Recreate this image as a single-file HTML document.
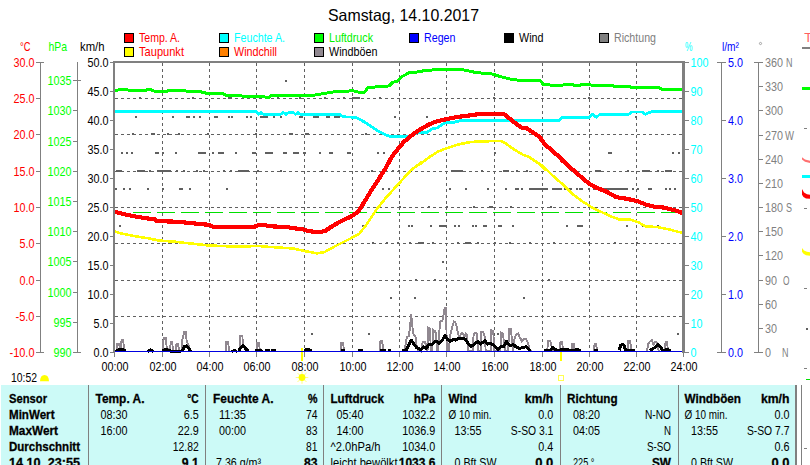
<!DOCTYPE html>
<html><head><meta charset="utf-8"><title>Wetter</title>
<style>html,body{margin:0;padding:0;background:#fff;overflow:hidden}svg{display:block}text{white-space:pre}</style></head>
<body>
<svg width="810" height="465" viewBox="0 0 810 465" font-family="Liberation Sans, sans-serif">
<rect x="0" y="0" width="810" height="465" fill="#fff"/>
<text x="328" y="21" font-size="16.5" fill="#000" text-anchor="start" textLength="151" lengthAdjust="spacingAndGlyphs" >Samstag, 14.10.2017</text>
<rect x="124.5" y="33.5" width="9" height="9" fill="#ff0000" stroke="#000" stroke-width="1" shape-rendering="crispEdges"/>
<text x="139" y="42" font-size="13" fill="#ff0000" text-anchor="start" textLength="41" lengthAdjust="spacingAndGlyphs" >Temp. A.</text>
<rect x="124.5" y="47.5" width="9" height="9" fill="#ffff00" stroke="#000" stroke-width="1" shape-rendering="crispEdges"/>
<text x="139" y="56" font-size="13" fill="#ff0000" text-anchor="start" textLength="45" lengthAdjust="spacingAndGlyphs" >Taupunkt</text>
<rect x="219.5" y="33.5" width="9" height="9" fill="#00ffff" stroke="#000" stroke-width="1" shape-rendering="crispEdges"/>
<text x="234" y="42" font-size="13" fill="#00ffff" text-anchor="start" textLength="51" lengthAdjust="spacingAndGlyphs" >Feuchte A.</text>
<rect x="219.5" y="47.5" width="9" height="9" fill="#ff8000" stroke="#000" stroke-width="1" shape-rendering="crispEdges"/>
<text x="234" y="56" font-size="13" fill="#ff0000" text-anchor="start" textLength="43" lengthAdjust="spacingAndGlyphs" >Windchill</text>
<rect x="314.5" y="33.5" width="9" height="9" fill="#00ff00" stroke="#000" stroke-width="1" shape-rendering="crispEdges"/>
<text x="329" y="42" font-size="13" fill="#00f000" text-anchor="start" textLength="44" lengthAdjust="spacingAndGlyphs" >Luftdruck</text>
<rect x="314.5" y="47.5" width="9" height="9" fill="#908890" stroke="#000" stroke-width="1" shape-rendering="crispEdges"/>
<text x="329" y="56" font-size="13" fill="#000000" text-anchor="start" textLength="48.5" lengthAdjust="spacingAndGlyphs" >Windböen</text>
<rect x="409.5" y="33.5" width="9" height="9" fill="#0000ff" stroke="#000" stroke-width="1" shape-rendering="crispEdges"/>
<text x="424" y="42" font-size="13" fill="#0000ff" text-anchor="start" textLength="31.5" lengthAdjust="spacingAndGlyphs" >Regen</text>
<rect x="504.5" y="33.5" width="9" height="9" fill="#000000" stroke="#000" stroke-width="1" shape-rendering="crispEdges"/>
<text x="519" y="42" font-size="13" fill="#000000" text-anchor="start" textLength="24.5" lengthAdjust="spacingAndGlyphs" >Wind</text>
<rect x="599.5" y="33.5" width="9" height="9" fill="#808080" stroke="#000" stroke-width="1" shape-rendering="crispEdges"/>
<text x="614" y="42" font-size="13" fill="#808080" text-anchor="start" textLength="42" lengthAdjust="spacingAndGlyphs" >Richtung</text>
<g stroke="#606060" stroke-width="1" stroke-dasharray="3,3" shape-rendering="crispEdges">
<line x1="162.5" y1="63" x2="162.5" y2="352"/>
<line x1="209.5" y1="63" x2="209.5" y2="352"/>
<line x1="256.5" y1="63" x2="256.5" y2="352"/>
<line x1="304.5" y1="63" x2="304.5" y2="352"/>
<line x1="352.5" y1="63" x2="352.5" y2="352"/>
<line x1="399.5" y1="63" x2="399.5" y2="352"/>
<line x1="446.5" y1="63" x2="446.5" y2="352"/>
<line x1="494.5" y1="63" x2="494.5" y2="352"/>
<line x1="542.5" y1="63" x2="542.5" y2="352"/>
<line x1="589.5" y1="63" x2="589.5" y2="352"/>
<line x1="636.5" y1="63" x2="636.5" y2="352"/>
<line x1="115" y1="98.5" x2="682" y2="98.5"/>
<line x1="115" y1="134.5" x2="682" y2="134.5"/>
<line x1="115" y1="171.5" x2="682" y2="171.5"/>
<line x1="115" y1="207.5" x2="682" y2="207.5"/>
<line x1="115" y1="243.5" x2="682" y2="243.5"/>
<line x1="115" y1="280.5" x2="682" y2="280.5"/>
<line x1="115" y1="316.5" x2="682" y2="316.5"/>
</g>
<g fill="#606060" shape-rendering="crispEdges">
<rect x="285" y="80" width="2" height="2"/>
<rect x="139" y="97" width="2" height="2"/>
<rect x="192" y="97" width="2" height="2"/>
<rect x="228" y="97" width="2" height="2"/>
<rect x="230" y="97" width="2" height="2"/>
<rect x="247" y="97" width="2" height="2"/>
<rect x="277" y="97" width="2" height="2"/>
<rect x="299" y="97" width="2" height="2"/>
<rect x="135" y="116" width="2" height="2"/>
<rect x="172" y="116" width="2" height="2"/>
<rect x="186" y="116" width="2" height="2"/>
<rect x="188" y="116" width="2" height="2"/>
<rect x="193" y="116" width="2" height="2"/>
<rect x="199" y="116" width="2" height="2"/>
<rect x="214" y="116" width="2" height="2"/>
<rect x="216" y="116" width="2" height="2"/>
<rect x="228" y="116" width="2" height="2"/>
<rect x="231" y="116" width="2" height="2"/>
<rect x="246" y="116" width="2" height="2"/>
<rect x="250" y="116" width="2" height="2"/>
<rect x="260" y="116" width="2" height="2"/>
<rect x="262" y="116" width="2" height="2"/>
<rect x="264" y="116" width="2" height="2"/>
<rect x="266" y="116" width="2" height="2"/>
<rect x="273" y="116" width="2" height="2"/>
<rect x="280" y="116" width="2" height="2"/>
<rect x="299" y="116" width="2" height="2"/>
<rect x="301" y="116" width="2" height="2"/>
<rect x="132" y="133" width="2" height="2"/>
<rect x="151" y="133" width="2" height="2"/>
<rect x="153" y="133" width="2" height="2"/>
<rect x="167" y="133" width="2" height="2"/>
<rect x="178" y="133" width="2" height="2"/>
<rect x="207" y="133" width="2" height="2"/>
<rect x="255" y="133" width="2" height="2"/>
<rect x="289" y="133" width="2" height="2"/>
<rect x="291" y="133" width="2" height="2"/>
<rect x="307" y="133" width="2" height="2"/>
<rect x="121" y="152" width="2" height="2"/>
<rect x="126" y="152" width="2" height="2"/>
<rect x="131" y="152" width="2" height="2"/>
<rect x="155" y="152" width="2" height="2"/>
<rect x="157" y="152" width="2" height="2"/>
<rect x="162" y="152" width="2" height="2"/>
<rect x="175" y="152" width="2" height="2"/>
<rect x="198" y="152" width="2" height="2"/>
<rect x="200" y="152" width="2" height="2"/>
<rect x="202" y="152" width="2" height="2"/>
<rect x="204" y="152" width="2" height="2"/>
<rect x="212" y="152" width="2" height="2"/>
<rect x="218" y="152" width="2" height="2"/>
<rect x="220" y="152" width="2" height="2"/>
<rect x="222" y="152" width="2" height="2"/>
<rect x="235" y="152" width="2" height="2"/>
<rect x="252" y="152" width="2" height="2"/>
<rect x="254" y="152" width="2" height="2"/>
<rect x="265" y="152" width="2" height="2"/>
<rect x="267" y="152" width="2" height="2"/>
<rect x="269" y="152" width="2" height="2"/>
<rect x="271" y="152" width="2" height="2"/>
<rect x="283" y="152" width="2" height="2"/>
<rect x="285" y="152" width="2" height="2"/>
<rect x="293" y="152" width="2" height="2"/>
<rect x="295" y="152" width="2" height="2"/>
<rect x="297" y="152" width="2" height="2"/>
<rect x="304" y="152" width="2" height="2"/>
<rect x="324" y="97" width="2" height="2"/>
<rect x="343" y="97" width="2" height="2"/>
<rect x="352" y="97" width="2" height="2"/>
<rect x="354" y="97" width="2" height="2"/>
<rect x="356" y="97" width="2" height="2"/>
<rect x="358" y="97" width="2" height="2"/>
<rect x="379" y="97" width="2" height="2"/>
<rect x="301" y="116" width="2" height="2"/>
<rect x="313" y="116" width="2" height="2"/>
<rect x="315" y="116" width="2" height="2"/>
<rect x="317" y="116" width="2" height="2"/>
<rect x="326" y="116" width="2" height="2"/>
<rect x="328" y="116" width="2" height="2"/>
<rect x="334" y="116" width="2" height="2"/>
<rect x="336" y="116" width="2" height="2"/>
<rect x="338" y="116" width="2" height="2"/>
<rect x="394" y="116" width="2" height="2"/>
<rect x="426" y="116" width="2" height="2"/>
<rect x="305" y="133" width="2" height="2"/>
<rect x="307" y="133" width="2" height="2"/>
<rect x="365" y="133" width="2" height="2"/>
<rect x="303" y="152" width="2" height="2"/>
<rect x="319" y="152" width="2" height="2"/>
<rect x="329" y="152" width="2" height="2"/>
<rect x="331" y="152" width="2" height="2"/>
<rect x="347" y="152" width="2" height="2"/>
<rect x="349" y="152" width="2" height="2"/>
<rect x="377" y="152" width="2" height="2"/>
<rect x="383" y="152" width="2" height="2"/>
<rect x="494" y="152" width="2" height="2"/>
<rect x="493" y="97" width="2" height="2"/>
<rect x="588" y="97" width="2" height="2"/>
<rect x="635" y="116" width="2" height="2"/>
<rect x="494" y="152" width="2" height="2"/>
<rect x="608" y="152" width="2" height="2"/>
<rect x="610" y="152" width="2" height="2"/>
<rect x="672" y="152" width="2" height="2"/>
<rect x="678" y="152" width="2" height="2"/>
<rect x="116" y="170" width="2" height="2"/>
<rect x="118" y="170" width="2" height="2"/>
<rect x="120" y="170" width="2" height="2"/>
<rect x="137" y="170" width="2" height="2"/>
<rect x="139" y="170" width="2" height="2"/>
<rect x="141" y="170" width="2" height="2"/>
<rect x="143" y="170" width="2" height="2"/>
<rect x="149" y="170" width="2" height="2"/>
<rect x="157" y="170" width="2" height="2"/>
<rect x="159" y="170" width="2" height="2"/>
<rect x="161" y="170" width="2" height="2"/>
<rect x="163" y="170" width="2" height="2"/>
<rect x="165" y="170" width="2" height="2"/>
<rect x="167" y="170" width="2" height="2"/>
<rect x="169" y="170" width="2" height="2"/>
<rect x="176" y="170" width="2" height="2"/>
<rect x="183" y="170" width="2" height="2"/>
<rect x="196" y="170" width="2" height="2"/>
<rect x="203" y="170" width="2" height="2"/>
<rect x="223" y="170" width="2" height="2"/>
<rect x="230" y="170" width="2" height="2"/>
<rect x="238" y="170" width="2" height="2"/>
<rect x="240" y="170" width="2" height="2"/>
<rect x="242" y="170" width="2" height="2"/>
<rect x="243" y="170" width="2" height="2"/>
<rect x="245" y="170" width="2" height="2"/>
<rect x="247" y="170" width="2" height="2"/>
<rect x="257" y="170" width="2" height="2"/>
<rect x="280" y="170" width="2" height="2"/>
<rect x="115" y="188" width="2" height="2"/>
<rect x="123" y="188" width="2" height="2"/>
<rect x="129" y="188" width="2" height="2"/>
<rect x="147" y="188" width="2" height="2"/>
<rect x="162" y="188" width="2" height="2"/>
<rect x="179" y="188" width="2" height="2"/>
<rect x="181" y="188" width="2" height="2"/>
<rect x="189" y="188" width="2" height="2"/>
<rect x="226" y="188" width="2" height="2"/>
<rect x="119" y="225" width="2" height="2"/>
<rect x="168" y="242" width="2" height="2"/>
<rect x="255" y="242" width="2" height="2"/>
<rect x="321" y="170" width="2" height="2"/>
<rect x="371" y="170" width="2" height="2"/>
<rect x="392" y="170" width="2" height="2"/>
<rect x="398" y="170" width="2" height="2"/>
<rect x="451" y="170" width="2" height="2"/>
<rect x="453" y="170" width="2" height="2"/>
<rect x="455" y="170" width="2" height="2"/>
<rect x="457" y="170" width="2" height="2"/>
<rect x="459" y="170" width="2" height="2"/>
<rect x="461" y="170" width="2" height="2"/>
<rect x="481" y="170" width="2" height="2"/>
<rect x="382" y="188" width="2" height="2"/>
<rect x="388" y="188" width="2" height="2"/>
<rect x="449" y="188" width="2" height="2"/>
<rect x="465" y="188" width="2" height="2"/>
<rect x="487" y="188" width="2" height="2"/>
<rect x="399" y="206" width="2" height="2"/>
<rect x="428" y="206" width="2" height="2"/>
<rect x="446" y="206" width="2" height="2"/>
<rect x="473" y="206" width="2" height="2"/>
<rect x="489" y="206" width="2" height="2"/>
<rect x="491" y="206" width="2" height="2"/>
<rect x="362" y="225" width="2" height="2"/>
<rect x="408" y="225" width="2" height="2"/>
<rect x="411" y="225" width="2" height="2"/>
<rect x="430" y="225" width="2" height="2"/>
<rect x="439" y="225" width="2" height="2"/>
<rect x="441" y="225" width="2" height="2"/>
<rect x="443" y="225" width="2" height="2"/>
<rect x="445" y="225" width="2" height="2"/>
<rect x="454" y="225" width="2" height="2"/>
<rect x="458" y="225" width="2" height="2"/>
<rect x="472" y="225" width="2" height="2"/>
<rect x="475" y="225" width="2" height="2"/>
<rect x="483" y="225" width="2" height="2"/>
<rect x="485" y="225" width="2" height="2"/>
<rect x="341" y="242" width="2" height="2"/>
<rect x="372" y="242" width="2" height="2"/>
<rect x="386" y="242" width="2" height="2"/>
<rect x="397" y="242" width="2" height="2"/>
<rect x="409" y="242" width="2" height="2"/>
<rect x="418" y="242" width="2" height="2"/>
<rect x="420" y="242" width="2" height="2"/>
<rect x="422" y="242" width="2" height="2"/>
<rect x="432" y="242" width="2" height="2"/>
<rect x="457" y="242" width="2" height="2"/>
<rect x="465" y="242" width="2" height="2"/>
<rect x="467" y="242" width="2" height="2"/>
<rect x="469" y="242" width="2" height="2"/>
<rect x="477" y="242" width="2" height="2"/>
<rect x="494" y="242" width="2" height="2"/>
<rect x="442" y="261" width="2" height="2"/>
<rect x="503" y="170" width="2" height="2"/>
<rect x="505" y="170" width="2" height="2"/>
<rect x="507" y="170" width="2" height="2"/>
<rect x="516" y="170" width="2" height="2"/>
<rect x="526" y="170" width="2" height="2"/>
<rect x="595" y="170" width="2" height="2"/>
<rect x="597" y="170" width="2" height="2"/>
<rect x="599" y="170" width="2" height="2"/>
<rect x="627" y="170" width="2" height="2"/>
<rect x="642" y="170" width="2" height="2"/>
<rect x="644" y="170" width="2" height="2"/>
<rect x="646" y="170" width="2" height="2"/>
<rect x="648" y="170" width="2" height="2"/>
<rect x="657" y="170" width="2" height="2"/>
<rect x="665" y="170" width="2" height="2"/>
<rect x="667" y="170" width="2" height="2"/>
<rect x="668" y="170" width="2" height="2"/>
<rect x="670" y="170" width="2" height="2"/>
<rect x="505" y="188" width="2" height="2"/>
<rect x="515" y="188" width="2" height="2"/>
<rect x="517" y="188" width="2" height="2"/>
<rect x="521" y="188" width="2" height="2"/>
<rect x="529" y="188" width="2" height="2"/>
<rect x="531" y="188" width="2" height="2"/>
<rect x="533" y="188" width="2" height="2"/>
<rect x="534" y="188" width="2" height="2"/>
<rect x="536" y="188" width="2" height="2"/>
<rect x="538" y="188" width="2" height="2"/>
<rect x="540" y="188" width="2" height="2"/>
<rect x="542" y="188" width="2" height="2"/>
<rect x="544" y="188" width="2" height="2"/>
<rect x="546" y="188" width="2" height="2"/>
<rect x="552" y="188" width="2" height="2"/>
<rect x="554" y="188" width="2" height="2"/>
<rect x="556" y="188" width="2" height="2"/>
<rect x="558" y="188" width="2" height="2"/>
<rect x="560" y="188" width="2" height="2"/>
<rect x="564" y="188" width="2" height="2"/>
<rect x="568" y="188" width="2" height="2"/>
<rect x="570" y="188" width="2" height="2"/>
<rect x="576" y="188" width="2" height="2"/>
<rect x="579" y="188" width="2" height="2"/>
<rect x="581" y="188" width="2" height="2"/>
<rect x="588" y="188" width="2" height="2"/>
<rect x="593" y="188" width="2" height="2"/>
<rect x="595" y="188" width="2" height="2"/>
<rect x="597" y="188" width="2" height="2"/>
<rect x="599" y="188" width="2" height="2"/>
<rect x="601" y="188" width="2" height="2"/>
<rect x="603" y="188" width="2" height="2"/>
<rect x="605" y="188" width="2" height="2"/>
<rect x="607" y="188" width="2" height="2"/>
<rect x="609" y="188" width="2" height="2"/>
<rect x="611" y="188" width="2" height="2"/>
<rect x="613" y="188" width="2" height="2"/>
<rect x="615" y="188" width="2" height="2"/>
<rect x="617" y="188" width="2" height="2"/>
<rect x="619" y="188" width="2" height="2"/>
<rect x="621" y="188" width="2" height="2"/>
<rect x="622" y="188" width="2" height="2"/>
<rect x="624" y="188" width="2" height="2"/>
<rect x="626" y="188" width="2" height="2"/>
<rect x="632" y="188" width="2" height="2"/>
<rect x="637" y="188" width="2" height="2"/>
<rect x="648" y="188" width="2" height="2"/>
<rect x="650" y="188" width="2" height="2"/>
<rect x="665" y="188" width="2" height="2"/>
<rect x="669" y="188" width="2" height="2"/>
<rect x="674" y="188" width="2" height="2"/>
<rect x="491" y="206" width="2" height="2"/>
<rect x="510" y="206" width="2" height="2"/>
<rect x="550" y="206" width="2" height="2"/>
<rect x="588" y="206" width="2" height="2"/>
<rect x="498" y="225" width="2" height="2"/>
<rect x="500" y="225" width="2" height="2"/>
<rect x="512" y="225" width="2" height="2"/>
<rect x="566" y="225" width="2" height="2"/>
<rect x="577" y="225" width="2" height="2"/>
<rect x="579" y="225" width="2" height="2"/>
<rect x="581" y="225" width="2" height="2"/>
<rect x="626" y="225" width="2" height="2"/>
<rect x="642" y="225" width="2" height="2"/>
<rect x="657" y="225" width="2" height="2"/>
<rect x="509" y="242" width="2" height="2"/>
<rect x="529" y="242" width="2" height="2"/>
<rect x="553" y="242" width="2" height="2"/>
<rect x="588" y="242" width="2" height="2"/>
<rect x="614" y="242" width="2" height="2"/>
<rect x="636" y="242" width="2" height="2"/>
<rect x="415" y="279" width="2" height="2"/>
<rect x="434" y="279" width="2" height="2"/>
<rect x="390" y="297" width="2" height="2"/>
<rect x="414" y="297" width="2" height="2"/>
<rect x="311" y="333" width="2" height="2"/>
<rect x="368" y="333" width="2" height="2"/>
<rect x="548" y="279" width="2" height="2"/>
<rect x="523" y="297" width="2" height="2"/>
<rect x="497" y="333" width="2" height="2"/>
<rect x="677" y="333" width="2" height="2"/>
</g>
<line x1="133" y1="212.5" x2="682" y2="212.5" stroke="#00e000" stroke-width="1" stroke-dasharray="18,6" shape-rendering="crispEdges"/>
<rect x="301" y="348" width="2" height="13" fill="#ffff00" shape-rendering="crispEdges"/>
<rect x="560" y="348" width="2" height="13" fill="#ffff00" shape-rendering="crispEdges"/>
<path d="M116.7,351.3 L117.4,343.6 L118.8,343.6 L119.8,347.5 L121.0,347.5 L121.6,339.8 L123.0,339.8 L124.0,346.7 L124.5,351.3 M162.5,351.3 L163.0,341.5 L164.1,337.7 L165.6,337.7 L166.5,345.8 L167.7,348.4 L168.9,351.3 L170.0,351.3 L170.7,341.5 L172.0,341.5 L172.9,348.4 L173.8,351.3 L175.8,351.3 L176.5,344.1 L177.9,344.1 L179.0,349.3 L179.8,351.3 L181.5,351.3 L182.4,339.8 L184.1,332.0 L185.9,332.0 L186.7,341.5 L188.5,344.9 L189.3,351.3 M225.6,351.3 L226.3,342.3 L228.2,342.3 L229.1,351.3 M239.4,351.3 L240.3,335.8 L242.4,335.8 L242.9,344.1 L244.6,346.7 L247.2,351.3 M256.4,351.3 L257.1,342.9 L258.8,342.9 L259.8,349.3 L260.5,351.3 M340.6,351.3 L341.4,342.9 L343.1,342.9 L344.0,351.3 M379.4,351.3 L380.5,340.6 L382.2,340.6 L383.2,351.3 M404.5,351.3 L406.8,337.2 L408.8,336.3 L410.2,325.9 L411.1,313.8 L412.3,325.9 L413.7,335.4 L415.4,336.3 L416.6,344.9 L418.3,350.1 L420.9,351.3 L422.7,342.3 L424.7,341.5 L426.1,344.9 L427.5,351.3 L428.4,327.7 L430.1,328.5 L430.8,351.3 L432.2,351.3 L433.0,329.4 L434.8,331.1 L436.1,333.7 L437.0,351.3 L438.2,351.3 L439.1,332.8 L440.5,320.7 L442.5,320.7 L443.4,315.6 L444.6,307.8 L446.0,307.8 L446.9,351.3 L448.6,351.3 L450.3,334.6 L452.0,327.7 L453.8,321.6 L455.5,322.5 L456.9,327.7 L458.1,334.6 L459.8,337.2 L461.5,332.8 L463.3,333.7 L464.1,337.2 L465.9,333.7 L467.2,334.6 L467.9,351.3 L472.8,351.3 L473.6,334.6 L474.9,332.8 L477.1,333.7 L478.0,351.3 L480.6,351.3 L481.4,332.0 L483.1,332.0 L484.9,337.2 L485.7,351.3 L490.9,351.3 L491.4,330.2 L493.2,331.1 L494.4,351.3 L500.4,351.3 L501.3,332.8 L503.0,333.7 L504.2,344.9 L505.6,351.3 L508.2,351.3 L509.1,328.5 L510.8,328.5 L512.2,342.3 L513.0,351.3 L514.3,339.8 L516.0,334.6 L518.1,333.7 L519.8,337.2 L522.0,341.5 L523.8,338.9 L526.0,338.9 L528.1,343.2 L529.8,350.1 L531.5,351.3 M547.0,351.3 L548.3,341.1 L550.2,341.1 L551.7,346.3 L553.1,351.3 M559.4,351.3 L560.4,342.2 L562.2,342.2 L563.1,351.3 M571.7,351.3 L572.4,344.1 L573.9,344.1 L574.8,351.3 M593.9,351.3 L594.6,344.1 L596.1,344.1 L597.2,351.3 M627.6,351.3 L628.3,341.1 L630.2,341.1 L631.3,351.3 M647.0,351.3 L648.3,343.5 L651.7,339.8 L653.5,344.4 L655.4,341.7 L657.2,343.0 L658.7,351.3 M664.6,351.3 L665.6,342.2 L667.0,342.2 L668.0,351.3" fill="none" stroke="#908890" stroke-width="1.9" stroke-linejoin="miter" shape-rendering="crispEdges"/>
<polyline points="115.9,351.3 118.5,349.8 121.9,349.3 125.4,351.0" fill="none" stroke="#000" stroke-width="3.0" stroke-linejoin="round" stroke-linecap="butt" shape-rendering="crispEdges"/>
<polyline points="147.8,351.3 150.4,349.8 153.4,351.3" fill="none" stroke="#000" stroke-width="3.0" stroke-linejoin="round" stroke-linecap="butt" shape-rendering="crispEdges"/>
<polyline points="162.5,351.3 165.1,349.3 167.7,349.8 170.3,351.0 180.7,351.0" fill="none" stroke="#000" stroke-width="3.0" stroke-linejoin="round" stroke-linecap="butt" shape-rendering="crispEdges"/>
<polyline points="182.4,351.0 184.1,346.7 186.7,345.8 189.3,349.3 190.7,351.3" fill="none" stroke="#000" stroke-width="3.0" stroke-linejoin="round" stroke-linecap="butt" shape-rendering="crispEdges"/>
<polyline points="231.7,351.3 234.3,350.6 236.9,351.3" fill="none" stroke="#000" stroke-width="3.0" stroke-linejoin="round" stroke-linecap="butt" shape-rendering="crispEdges"/>
<polyline points="238.6,351.0 240.3,348.4 242.9,345.3 245.5,348.4 248.1,351.0" fill="none" stroke="#000" stroke-width="3.0" stroke-linejoin="round" stroke-linecap="butt" shape-rendering="crispEdges"/>
<polyline points="255.0,351.0 257.6,350.1 261.0,350.3 261.9,351.3" fill="none" stroke="#000" stroke-width="3.0" stroke-linejoin="round" stroke-linecap="butt" shape-rendering="crispEdges"/>
<polyline points="265.0,350.8 269.7,350.8" fill="none" stroke="#000" stroke-width="3.0" stroke-linejoin="round" stroke-linecap="butt" shape-rendering="crispEdges"/>
<polyline points="271.4,350.8 275.7,350.8" fill="none" stroke="#000" stroke-width="3.0" stroke-linejoin="round" stroke-linecap="butt" shape-rendering="crispEdges"/>
<polyline points="304.3,350.8 306.0,349.8 309.4,349.8 311.7,351.0" fill="none" stroke="#000" stroke-width="3.0" stroke-linejoin="round" stroke-linecap="butt" shape-rendering="crispEdges"/>
<polyline points="341.1,350.8 345.2,350.8" fill="none" stroke="#000" stroke-width="3.0" stroke-linejoin="round" stroke-linecap="butt" shape-rendering="crispEdges"/>
<polyline points="358.4,350.8 363.0,350.8" fill="none" stroke="#000" stroke-width="3.0" stroke-linejoin="round" stroke-linecap="butt" shape-rendering="crispEdges"/>
<polyline points="379.8,350.8 386.4,350.8" fill="none" stroke="#000" stroke-width="3.0" stroke-linejoin="round" stroke-linecap="butt" shape-rendering="crispEdges"/>
<polyline points="388.1,350.8 390.7,350.8" fill="none" stroke="#000" stroke-width="3.0" stroke-linejoin="round" stroke-linecap="butt" shape-rendering="crispEdges"/>
<polyline points="401.9,351.0 406.2,350.1 408.8,344.9 411.4,340.1 414.0,344.1 416.6,347.5 420.9,350.1 423.5,346.7 426.1,348.4 428.7,344.9 432.2,344.1 435.6,341.1 439.1,343.2 442.5,339.8 445.1,335.4 447.7,339.8 450.3,341.5 452.9,339.4 455.5,340.1 459.0,338.4 463.3,338.4 465.9,339.8 468.5,344.1 471.0,346.7 474.5,344.1 478.0,341.5 480.6,344.1 484.9,340.6 487.5,344.1 490.9,343.2 494.4,345.8 497.8,349.3 501.3,346.7 503.9,346.3 506.5,341.5 509.9,345.8 513.4,344.6 516.0,347.0 519.4,348.4 522.9,347.5 526.4,346.7 529.0,349.3 530.7,351.0" fill="none" stroke="#000" stroke-width="3.0" stroke-linejoin="round" stroke-linecap="butt" shape-rendering="crispEdges"/>
<polyline points="544.3,350.9 550.7,350.0 552.6,347.2 555.0,349.6 559.1,350.4 562.8,349.1 567.4,349.6 570.2,350.9 574.8,350.0 577.6,349.1 580.4,350.9" fill="none" stroke="#000" stroke-width="3.0" stroke-linejoin="round" stroke-linecap="butt" shape-rendering="crispEdges"/>
<polyline points="594.3,350.9 598.0,350.6" fill="none" stroke="#000" stroke-width="3.0" stroke-linejoin="round" stroke-linecap="butt" shape-rendering="crispEdges"/>
<polyline points="619.3,350.4 620.6,345.4 622.4,344.1 624.3,345.9 625.4,350.0 629.4,350.0 635.0,350.7" fill="none" stroke="#000" stroke-width="3.0" stroke-linejoin="round" stroke-linecap="butt" shape-rendering="crispEdges"/>
<polyline points="649.8,350.4 654.4,347.8 658.1,344.4 660.9,347.8 662.8,350.4 667.4,349.6 671.1,350.7" fill="none" stroke="#000" stroke-width="3.0" stroke-linejoin="round" stroke-linecap="butt" shape-rendering="crispEdges"/>
<rect x="115" y="351" width="567" height="1" fill="#0000e0" shape-rendering="crispEdges"/>
<polyline points="113.7,90.4 124.8,89.4 129.8,90.4 144.6,90.4 149.6,89.4 154.5,91.1 166.9,91.1 170.6,90.4 184.2,90.4 186.6,91.1 200.2,91.6 203.9,92.6 208.9,93.8 216.3,93.6 222.5,93.3 227.4,96.0 233.6,95.3 238.6,95.3 242.3,96.0 248.4,96.5 255.9,96.5 260.8,96.0 264.5,97.0 269.5,97.0 271.9,95.3 283.1,95.3 295.4,95.3 297.9,96.0 305.3,95.3 304.9,95.8 317.3,94.8 324.7,93.3 334.6,91.8 353.2,90.8 360.6,92.6 364.3,92.6 368.0,87.4 381.6,86.6 389.0,85.9 392.7,82.4 397.7,81.2 401.4,76.8 406.3,74.3 408.8,72.8 421.1,71.6 423.6,70.3 438.4,69.8 448.3,69.1 460.7,69.3 470.6,71.3 476.8,72.8 490.4,73.5 495.3,75.0 494.9,74.8 502.4,77.2 509.8,79.0 517.2,80.0 539.4,80.0 543.2,84.2 556.7,85.9 561.7,85.9 564.2,84.2 571.6,84.2 574.1,85.2 580.2,85.2 582.7,84.2 588.9,84.7 596.3,85.9 602.5,85.9 605.0,85.2 611.1,85.2 613.6,86.1 628.4,86.6 630.9,87.1 658.1,87.1 661.8,89.1 683.6,89.1" fill="none" stroke="#00ff00" stroke-width="3.0" stroke-linejoin="round" stroke-linecap="butt" shape-rendering="crispEdges"/>
<polyline points="113.7,111.6 255.9,111.6 258.3,114.3 261.3,112.6 263.3,114.3 280.6,114.3 283.1,112.6 286.0,114.3 289.2,112.1 292.9,112.1 295.4,114.3 297.9,112.6 300.4,114.3 305.3,114.3 307.4,114.3 339.6,114.3 343.3,116.8 355.6,117.3 361.8,120.5 368.0,124.2 379.1,131.6 384.1,134.1 390.2,136.6 408.8,136.6 413.7,134.1 418.7,132.4 427.3,132.4 432.3,128.7 437.2,127.9 444.6,123.0 454.5,122.2 460.7,120.5 495.3,120.5 497.4,120.5 559.2,120.5 561.7,117.3 588.9,117.3 592.6,114.3 596.3,117.3 600.0,114.3 628.4,114.3 632.2,111.9 642.0,111.9 645.7,114.3 650.7,111.9 683.6,111.6" fill="none" stroke="#00ffff" stroke-width="2.8" stroke-linejoin="round" stroke-linecap="butt" shape-rendering="crispEdges"/>
<polyline points="114.2,231.2 119.9,233.2 127.3,234.7 134.7,236.1 147.1,238.1 159.4,240.6 174.3,241.6 184.2,242.8 196.5,244.1 208.9,245.5 233.6,246.5 241.0,246.5 258.3,246.0 270.7,247.0 283.1,247.8 292.9,248.5 302.8,250.5 304.9,251.2 309.9,252.0 317.3,253.4 324.7,252.0 334.6,246.5 349.4,239.1 359.3,233.7 366.7,224.3 376.6,209.4 386.5,197.1 398.9,183.5 411.2,169.9 421.1,162.5 418.7,165.0 428.6,157.6 438.4,151.4 448.3,147.7 458.2,144.5 470.6,142.0 480.5,141.5 495.3,141.0 494.9,141.0 499.9,140.8 504.8,142.8 509.8,146.5 517.2,151.4 523.4,155.1 528.3,156.4 534.5,160.8 539.4,163.8 545.6,170.0 541.9,164.9 551.8,174.8 561.7,183.5 571.6,193.4 581.5,200.8 591.4,207.0 601.2,211.9 611.1,216.4 618.6,219.3 630.9,219.8 638.3,222.3 645.7,226.3 658.1,227.2 668.0,229.2 677.9,231.7 682.8,232.9" fill="none" stroke="#ffff00" stroke-width="2.6" stroke-linejoin="round" stroke-linecap="butt" shape-rendering="crispEdges"/>
<polyline points="114.2,211.4 119.9,213.2 127.3,214.9 134.7,216.4 142.1,217.6 149.6,218.8 154.5,219.3 157.0,221.1 179.2,221.8 189.1,223.0 208.9,224.8 212.6,226.7 254.6,226.7 258.3,225.3 265.7,225.3 270.7,226.3 288.0,227.2 292.9,228.2 302.8,229.2 304.9,230.2 309.9,231.2 317.3,232.2 324.7,231.2 332.1,226.3 342.0,220.6 349.4,217.4 358.1,211.9 364.3,202.0 371.7,189.7 379.1,178.5 385.3,168.7 390.2,160.0 389.0,161.3 393.9,153.9 398.9,147.7 403.8,142.0 408.8,137.8 413.7,133.6 418.7,130.4 423.6,127.4 428.6,124.7 433.5,122.5 438.4,121.0 448.3,118.8 458.2,116.8 470.6,115.3 480.5,113.8 495.3,113.8 497.4,113.8 503.6,113.8 509.8,118.8 517.2,124.7 522.1,127.9 527.1,128.4 533.3,132.9 539.4,136.6 544.4,144.0 551.8,150.2 555.5,153.9 559.2,156.4 566.6,163.8 561.7,160.0 571.6,168.7 581.5,177.3 588.9,183.5 596.3,187.7 606.2,191.6 616.1,197.1 628.4,199.1 638.3,201.5 645.7,204.5 655.6,207.0 663.1,207.5 672.9,209.9 677.9,211.2 682.8,213.2" fill="none" stroke="#ff0000" stroke-width="4.2" stroke-linejoin="round" stroke-linecap="butt" shape-rendering="crispEdges"/>
<g fill="#808080" shape-rendering="crispEdges">
<rect x="113" y="61" width="2" height="292"/>
<rect x="113" y="61" width="572" height="2"/>
<rect x="682" y="61" width="3" height="292"/>
</g>
<g stroke="#808080" stroke-width="1" shape-rendering="crispEdges">
<line x1="114.5" y1="352" x2="114.5" y2="357"/>
<line x1="162.5" y1="352" x2="162.5" y2="357"/>
<line x1="209.5" y1="352" x2="209.5" y2="357"/>
<line x1="256.5" y1="352" x2="256.5" y2="357"/>
<line x1="304.5" y1="352" x2="304.5" y2="357"/>
<line x1="352.5" y1="352" x2="352.5" y2="357"/>
<line x1="399.5" y1="352" x2="399.5" y2="357"/>
<line x1="446.5" y1="352" x2="446.5" y2="357"/>
<line x1="494.5" y1="352" x2="494.5" y2="357"/>
<line x1="542.5" y1="352" x2="542.5" y2="357"/>
<line x1="589.5" y1="352" x2="589.5" y2="357"/>
<line x1="636.5" y1="352" x2="636.5" y2="357"/>
<line x1="683.5" y1="352" x2="683.5" y2="357"/>
</g>
<text x="115.0" y="371" font-size="13" fill="#000" text-anchor="middle" textLength="27" lengthAdjust="spacingAndGlyphs" >00:00</text>
<text x="163.0" y="371" font-size="13" fill="#000" text-anchor="middle" textLength="27" lengthAdjust="spacingAndGlyphs" >02:00</text>
<text x="210.0" y="371" font-size="13" fill="#000" text-anchor="middle" textLength="27" lengthAdjust="spacingAndGlyphs" >04:00</text>
<text x="257.0" y="371" font-size="13" fill="#000" text-anchor="middle" textLength="27" lengthAdjust="spacingAndGlyphs" >06:00</text>
<text x="305.0" y="371" font-size="13" fill="#000" text-anchor="middle" textLength="27" lengthAdjust="spacingAndGlyphs" >08:00</text>
<text x="353.0" y="371" font-size="13" fill="#000" text-anchor="middle" textLength="27" lengthAdjust="spacingAndGlyphs" >10:00</text>
<text x="400.0" y="371" font-size="13" fill="#000" text-anchor="middle" textLength="27" lengthAdjust="spacingAndGlyphs" >12:00</text>
<text x="447.0" y="371" font-size="13" fill="#000" text-anchor="middle" textLength="27" lengthAdjust="spacingAndGlyphs" >14:00</text>
<text x="495.0" y="371" font-size="13" fill="#000" text-anchor="middle" textLength="27" lengthAdjust="spacingAndGlyphs" >16:00</text>
<text x="543.0" y="371" font-size="13" fill="#000" text-anchor="middle" textLength="27" lengthAdjust="spacingAndGlyphs" >18:00</text>
<text x="590.0" y="371" font-size="13" fill="#000" text-anchor="middle" textLength="27" lengthAdjust="spacingAndGlyphs" >20:00</text>
<text x="637.0" y="371" font-size="13" fill="#000" text-anchor="middle" textLength="27" lengthAdjust="spacingAndGlyphs" >22:00</text>
<text x="684.0" y="371" font-size="13" fill="#000" text-anchor="middle" textLength="27" lengthAdjust="spacingAndGlyphs" >24:00</text>
<g stroke="#ffff80" stroke-width="1">
<line x1="305.0" y1="377.5" x2="308.3" y2="377.5"/>
<line x1="304.1" y1="379.6" x2="306.5" y2="382.0"/>
<line x1="302.0" y1="380.5" x2="302.0" y2="383.8"/>
<line x1="299.9" y1="379.6" x2="297.5" y2="382.0"/>
<line x1="299.0" y1="377.5" x2="295.7" y2="377.5"/>
<line x1="299.9" y1="375.4" x2="297.5" y2="373.0"/>
<line x1="302.0" y1="374.5" x2="302.0" y2="371.2"/>
<line x1="304.1" y1="375.4" x2="306.5" y2="373.0"/>
</g>
<circle cx="302" cy="377.5" r="3.4" fill="#ffff00"/>
<rect x="558.5" y="375.5" width="5" height="5" fill="none" stroke="#ffff50" stroke-width="1" shape-rendering="crispEdges"/>
<rect x="40" y="62" width="1" height="291" fill="#808080" shape-rendering="crispEdges"/>
<rect x="36" y="62" width="8" height="1" fill="#808080" shape-rendering="crispEdges"/>
<text x="34.5" y="67" font-size="13" fill="#ff0000" text-anchor="end" textLength="21" lengthAdjust="spacingAndGlyphs" >30.0</text>
<rect x="36" y="98" width="5" height="1" fill="#808080" shape-rendering="crispEdges"/>
<text x="34.5" y="103" font-size="13" fill="#ff0000" text-anchor="end" textLength="21" lengthAdjust="spacingAndGlyphs" >25.0</text>
<rect x="36" y="134" width="5" height="1" fill="#808080" shape-rendering="crispEdges"/>
<text x="34.5" y="139" font-size="13" fill="#ff0000" text-anchor="end" textLength="21" lengthAdjust="spacingAndGlyphs" >20.0</text>
<rect x="36" y="171" width="5" height="1" fill="#808080" shape-rendering="crispEdges"/>
<text x="34.5" y="176" font-size="13" fill="#ff0000" text-anchor="end" textLength="21" lengthAdjust="spacingAndGlyphs" >15.0</text>
<rect x="36" y="207" width="5" height="1" fill="#808080" shape-rendering="crispEdges"/>
<text x="34.5" y="212" font-size="13" fill="#ff0000" text-anchor="end" textLength="21" lengthAdjust="spacingAndGlyphs" >10.0</text>
<rect x="36" y="243" width="5" height="1" fill="#808080" shape-rendering="crispEdges"/>
<text x="34.5" y="248" font-size="13" fill="#ff0000" text-anchor="end" textLength="15" lengthAdjust="spacingAndGlyphs" >5.0</text>
<rect x="36" y="280" width="5" height="1" fill="#808080" shape-rendering="crispEdges"/>
<text x="34.5" y="285" font-size="13" fill="#ff0000" text-anchor="end" textLength="15" lengthAdjust="spacingAndGlyphs" >0.0</text>
<rect x="36" y="316" width="5" height="1" fill="#808080" shape-rendering="crispEdges"/>
<text x="34.5" y="321" font-size="13" fill="#ff0000" text-anchor="end" textLength="19" lengthAdjust="spacingAndGlyphs" >-5.0</text>
<rect x="36" y="352" width="8" height="1" fill="#808080" shape-rendering="crispEdges"/>
<text x="34.5" y="357" font-size="13" fill="#ff0000" text-anchor="end" textLength="25" lengthAdjust="spacingAndGlyphs" >-10.0</text>
<text x="20" y="51" font-size="13" fill="#ff0000" text-anchor="start" textLength="10.5" lengthAdjust="spacingAndGlyphs" >°C</text>
<rect x="77" y="62" width="1" height="291" fill="#808080" shape-rendering="crispEdges"/>
<rect x="73" y="80" width="8" height="1" fill="#808080" shape-rendering="crispEdges"/>
<text x="71.5" y="85" font-size="13" fill="#00ff00" text-anchor="end" textLength="24" lengthAdjust="spacingAndGlyphs" >1035</text>
<rect x="73" y="110" width="5" height="1" fill="#808080" shape-rendering="crispEdges"/>
<text x="71.5" y="115" font-size="13" fill="#00ff00" text-anchor="end" textLength="24" lengthAdjust="spacingAndGlyphs" >1030</text>
<rect x="73" y="141" width="5" height="1" fill="#808080" shape-rendering="crispEdges"/>
<text x="71.5" y="146" font-size="13" fill="#00ff00" text-anchor="end" textLength="24" lengthAdjust="spacingAndGlyphs" >1025</text>
<rect x="73" y="171" width="5" height="1" fill="#808080" shape-rendering="crispEdges"/>
<text x="71.5" y="176" font-size="13" fill="#00ff00" text-anchor="end" textLength="24" lengthAdjust="spacingAndGlyphs" >1020</text>
<rect x="73" y="201" width="5" height="1" fill="#808080" shape-rendering="crispEdges"/>
<text x="71.5" y="206" font-size="13" fill="#00ff00" text-anchor="end" textLength="24" lengthAdjust="spacingAndGlyphs" >1015</text>
<rect x="73" y="231" width="5" height="1" fill="#808080" shape-rendering="crispEdges"/>
<text x="71.5" y="236" font-size="13" fill="#00ff00" text-anchor="end" textLength="24" lengthAdjust="spacingAndGlyphs" >1010</text>
<rect x="73" y="261" width="5" height="1" fill="#808080" shape-rendering="crispEdges"/>
<text x="71.5" y="266" font-size="13" fill="#00ff00" text-anchor="end" textLength="24" lengthAdjust="spacingAndGlyphs" >1005</text>
<rect x="73" y="292" width="5" height="1" fill="#808080" shape-rendering="crispEdges"/>
<text x="71.5" y="297" font-size="13" fill="#00ff00" text-anchor="end" textLength="24" lengthAdjust="spacingAndGlyphs" >1000</text>
<rect x="73" y="322" width="5" height="1" fill="#808080" shape-rendering="crispEdges"/>
<text x="71.5" y="327" font-size="13" fill="#00ff00" text-anchor="end" textLength="18" lengthAdjust="spacingAndGlyphs" >995</text>
<rect x="73" y="352" width="8" height="1" fill="#808080" shape-rendering="crispEdges"/>
<text x="71.5" y="357" font-size="13" fill="#00ff00" text-anchor="end" textLength="18" lengthAdjust="spacingAndGlyphs" >990</text>
<text x="48.5" y="51" font-size="13" fill="#00ff00" text-anchor="start" textLength="18.5" lengthAdjust="spacingAndGlyphs" >hPa</text>
<rect x="110" y="62" width="3" height="1" fill="#808080" shape-rendering="crispEdges"/>
<text x="108.5" y="67" font-size="13" fill="#000" text-anchor="end" textLength="21" lengthAdjust="spacingAndGlyphs" >50.0</text>
<rect x="110" y="91" width="3" height="1" fill="#808080" shape-rendering="crispEdges"/>
<text x="108.5" y="96" font-size="13" fill="#000" text-anchor="end" textLength="21" lengthAdjust="spacingAndGlyphs" >45.0</text>
<rect x="110" y="120" width="3" height="1" fill="#808080" shape-rendering="crispEdges"/>
<text x="108.5" y="125" font-size="13" fill="#000" text-anchor="end" textLength="21" lengthAdjust="spacingAndGlyphs" >40.0</text>
<rect x="110" y="149" width="3" height="1" fill="#808080" shape-rendering="crispEdges"/>
<text x="108.5" y="154" font-size="13" fill="#000" text-anchor="end" textLength="21" lengthAdjust="spacingAndGlyphs" >35.0</text>
<rect x="110" y="178" width="3" height="1" fill="#808080" shape-rendering="crispEdges"/>
<text x="108.5" y="183" font-size="13" fill="#000" text-anchor="end" textLength="21" lengthAdjust="spacingAndGlyphs" >30.0</text>
<rect x="110" y="207" width="3" height="1" fill="#808080" shape-rendering="crispEdges"/>
<text x="108.5" y="212" font-size="13" fill="#000" text-anchor="end" textLength="21" lengthAdjust="spacingAndGlyphs" >25.0</text>
<rect x="110" y="236" width="3" height="1" fill="#808080" shape-rendering="crispEdges"/>
<text x="108.5" y="241" font-size="13" fill="#000" text-anchor="end" textLength="21" lengthAdjust="spacingAndGlyphs" >20.0</text>
<rect x="110" y="265" width="3" height="1" fill="#808080" shape-rendering="crispEdges"/>
<text x="108.5" y="270" font-size="13" fill="#000" text-anchor="end" textLength="21" lengthAdjust="spacingAndGlyphs" >15.0</text>
<rect x="110" y="294" width="3" height="1" fill="#808080" shape-rendering="crispEdges"/>
<text x="108.5" y="299" font-size="13" fill="#000" text-anchor="end" textLength="21" lengthAdjust="spacingAndGlyphs" >10.0</text>
<rect x="110" y="323" width="3" height="1" fill="#808080" shape-rendering="crispEdges"/>
<text x="108.5" y="328" font-size="13" fill="#000" text-anchor="end" textLength="15" lengthAdjust="spacingAndGlyphs" >5.0</text>
<rect x="110" y="352" width="3" height="1" fill="#808080" shape-rendering="crispEdges"/>
<text x="108.5" y="357" font-size="13" fill="#000" text-anchor="end" textLength="15" lengthAdjust="spacingAndGlyphs" >0.0</text>
<text x="80" y="51" font-size="13" fill="#000" text-anchor="start" textLength="24.5" lengthAdjust="spacingAndGlyphs" >km/h</text>
<rect x="685" y="62" width="4" height="1" fill="#808080" shape-rendering="crispEdges"/>
<text x="690.5" y="67" font-size="13" fill="#00ffff" text-anchor="start" textLength="18" lengthAdjust="spacingAndGlyphs" >100</text>
<rect x="685" y="91" width="4" height="1" fill="#808080" shape-rendering="crispEdges"/>
<text x="690.5" y="96" font-size="13" fill="#00ffff" text-anchor="start" textLength="12" lengthAdjust="spacingAndGlyphs" >90</text>
<rect x="685" y="120" width="4" height="1" fill="#808080" shape-rendering="crispEdges"/>
<text x="690.5" y="125" font-size="13" fill="#00ffff" text-anchor="start" textLength="12" lengthAdjust="spacingAndGlyphs" >80</text>
<rect x="685" y="149" width="4" height="1" fill="#808080" shape-rendering="crispEdges"/>
<text x="690.5" y="154" font-size="13" fill="#00ffff" text-anchor="start" textLength="12" lengthAdjust="spacingAndGlyphs" >70</text>
<rect x="685" y="178" width="4" height="1" fill="#808080" shape-rendering="crispEdges"/>
<text x="690.5" y="183" font-size="13" fill="#00ffff" text-anchor="start" textLength="12" lengthAdjust="spacingAndGlyphs" >60</text>
<rect x="685" y="207" width="4" height="1" fill="#808080" shape-rendering="crispEdges"/>
<text x="690.5" y="212" font-size="13" fill="#00ffff" text-anchor="start" textLength="12" lengthAdjust="spacingAndGlyphs" >50</text>
<rect x="685" y="236" width="4" height="1" fill="#808080" shape-rendering="crispEdges"/>
<text x="690.5" y="241" font-size="13" fill="#00ffff" text-anchor="start" textLength="12" lengthAdjust="spacingAndGlyphs" >40</text>
<rect x="685" y="265" width="4" height="1" fill="#808080" shape-rendering="crispEdges"/>
<text x="690.5" y="270" font-size="13" fill="#00ffff" text-anchor="start" textLength="12" lengthAdjust="spacingAndGlyphs" >30</text>
<rect x="685" y="294" width="4" height="1" fill="#808080" shape-rendering="crispEdges"/>
<text x="690.5" y="299" font-size="13" fill="#00ffff" text-anchor="start" textLength="12" lengthAdjust="spacingAndGlyphs" >20</text>
<rect x="685" y="323" width="4" height="1" fill="#808080" shape-rendering="crispEdges"/>
<text x="690.5" y="328" font-size="13" fill="#00ffff" text-anchor="start" textLength="12" lengthAdjust="spacingAndGlyphs" >10</text>
<rect x="685" y="352" width="4" height="1" fill="#808080" shape-rendering="crispEdges"/>
<text x="690.5" y="357" font-size="13" fill="#00ffff" text-anchor="start" textLength="6" lengthAdjust="spacingAndGlyphs" >0</text>
<text x="685" y="51" font-size="13" fill="#00ffff" text-anchor="start" textLength="7.5" lengthAdjust="spacingAndGlyphs" >%</text>
<rect x="721" y="62" width="1" height="291" fill="#808080" shape-rendering="crispEdges"/>
<rect x="717" y="62" width="9" height="1" fill="#808080" shape-rendering="crispEdges"/>
<text x="728" y="67" font-size="13" fill="#0000ff" text-anchor="start" textLength="15" lengthAdjust="spacingAndGlyphs" >5.0</text>
<rect x="721" y="120" width="5" height="1" fill="#808080" shape-rendering="crispEdges"/>
<text x="728" y="125" font-size="13" fill="#0000ff" text-anchor="start" textLength="15" lengthAdjust="spacingAndGlyphs" >4.0</text>
<rect x="721" y="178" width="5" height="1" fill="#808080" shape-rendering="crispEdges"/>
<text x="728" y="183" font-size="13" fill="#0000ff" text-anchor="start" textLength="15" lengthAdjust="spacingAndGlyphs" >3.0</text>
<rect x="721" y="236" width="5" height="1" fill="#808080" shape-rendering="crispEdges"/>
<text x="728" y="241" font-size="13" fill="#0000ff" text-anchor="start" textLength="15" lengthAdjust="spacingAndGlyphs" >2.0</text>
<rect x="721" y="294" width="5" height="1" fill="#808080" shape-rendering="crispEdges"/>
<text x="728" y="299" font-size="13" fill="#0000ff" text-anchor="start" textLength="15" lengthAdjust="spacingAndGlyphs" >1.0</text>
<rect x="717" y="352" width="9" height="1" fill="#808080" shape-rendering="crispEdges"/>
<text x="728" y="357" font-size="13" fill="#0000ff" text-anchor="start" textLength="15" lengthAdjust="spacingAndGlyphs" >0.0</text>
<text x="722" y="51" font-size="13" fill="#0000ff" text-anchor="start" textLength="17" lengthAdjust="spacingAndGlyphs" >l/m²</text>
<rect x="758" y="62" width="1" height="291" fill="#808080" shape-rendering="crispEdges"/>
<rect x="754" y="62" width="9" height="1" fill="#808080" shape-rendering="crispEdges"/>
<text x="765" y="67" font-size="13" fill="#808080" text-anchor="start" textLength="18" lengthAdjust="spacingAndGlyphs" >360</text>
<text x="786" y="67" font-size="13" fill="#808080" text-anchor="start" textLength="6.5" lengthAdjust="spacingAndGlyphs" >N</text>
<rect x="758" y="86" width="5" height="1" fill="#808080" shape-rendering="crispEdges"/>
<text x="765" y="91" font-size="13" fill="#808080" text-anchor="start" textLength="18" lengthAdjust="spacingAndGlyphs" >330</text>
<rect x="758" y="110" width="5" height="1" fill="#808080" shape-rendering="crispEdges"/>
<text x="765" y="115" font-size="13" fill="#808080" text-anchor="start" textLength="18" lengthAdjust="spacingAndGlyphs" >300</text>
<rect x="758" y="135" width="5" height="1" fill="#808080" shape-rendering="crispEdges"/>
<text x="765" y="140" font-size="13" fill="#808080" text-anchor="start" textLength="18" lengthAdjust="spacingAndGlyphs" >270</text>
<text x="785" y="140" font-size="13" fill="#808080" text-anchor="start" textLength="9" lengthAdjust="spacingAndGlyphs" >W</text>
<rect x="758" y="159" width="5" height="1" fill="#808080" shape-rendering="crispEdges"/>
<text x="765" y="164" font-size="13" fill="#808080" text-anchor="start" textLength="18" lengthAdjust="spacingAndGlyphs" >240</text>
<rect x="758" y="183" width="5" height="1" fill="#808080" shape-rendering="crispEdges"/>
<text x="765" y="188" font-size="13" fill="#808080" text-anchor="start" textLength="18" lengthAdjust="spacingAndGlyphs" >210</text>
<rect x="758" y="207" width="5" height="1" fill="#808080" shape-rendering="crispEdges"/>
<text x="765" y="212" font-size="13" fill="#808080" text-anchor="start" textLength="18" lengthAdjust="spacingAndGlyphs" >180</text>
<text x="786" y="212" font-size="13" fill="#808080" text-anchor="start" textLength="6" lengthAdjust="spacingAndGlyphs" >S</text>
<rect x="758" y="231" width="5" height="1" fill="#808080" shape-rendering="crispEdges"/>
<text x="765" y="236" font-size="13" fill="#808080" text-anchor="start" textLength="18" lengthAdjust="spacingAndGlyphs" >150</text>
<rect x="758" y="255" width="5" height="1" fill="#808080" shape-rendering="crispEdges"/>
<text x="765" y="260" font-size="13" fill="#808080" text-anchor="start" textLength="18" lengthAdjust="spacingAndGlyphs" >120</text>
<rect x="758" y="280" width="5" height="1" fill="#808080" shape-rendering="crispEdges"/>
<text x="765" y="285" font-size="13" fill="#808080" text-anchor="start" textLength="12" lengthAdjust="spacingAndGlyphs" >90</text>
<text x="783" y="285" font-size="13" fill="#808080" text-anchor="start" textLength="6.5" lengthAdjust="spacingAndGlyphs" >O</text>
<rect x="758" y="304" width="5" height="1" fill="#808080" shape-rendering="crispEdges"/>
<text x="765" y="309" font-size="13" fill="#808080" text-anchor="start" textLength="12" lengthAdjust="spacingAndGlyphs" >60</text>
<rect x="758" y="328" width="5" height="1" fill="#808080" shape-rendering="crispEdges"/>
<text x="765" y="333" font-size="13" fill="#808080" text-anchor="start" textLength="12" lengthAdjust="spacingAndGlyphs" >30</text>
<rect x="754" y="352" width="9" height="1" fill="#808080" shape-rendering="crispEdges"/>
<text x="765" y="357" font-size="13" fill="#808080" text-anchor="start" textLength="6" lengthAdjust="spacingAndGlyphs" >0</text>
<text x="782" y="357" font-size="13" fill="#808080" text-anchor="start" textLength="6.5" lengthAdjust="spacingAndGlyphs" >N</text>
<circle cx="760.5" cy="43.5" r="1.1" fill="none" stroke="#909090" stroke-width="0.8"/>
<g shape-rendering="crispEdges">
<rect x="802" y="47" width="8" height="2" fill="#808080"/>
<rect x="802" y="87" width="8" height="3" fill="#00ff00"/>
<rect x="802" y="175" width="8" height="3" fill="#00ffff"/>
<rect x="804" y="128" width="3" height="1" fill="#808080"/>
<rect x="804" y="208" width="3" height="1" fill="#808080"/>
<rect x="804" y="288" width="3" height="1" fill="#808080"/>
<rect x="804" y="368" width="3" height="1" fill="#808080"/>
<rect x="804" y="448" width="3" height="1" fill="#808080"/>
<rect x="806" y="328" width="2" height="2" fill="#606060"/>
<rect x="806" y="379" width="4" height="1" fill="#00e000"/>
</g>
<polygon points="802,157.3 805,159.5 810,160.8 810,163 805,161.7 802,159.6" fill="#ff7070"/>
<polygon points="802,189 804,192.5 807,194.3 810,194.8 810,198.8 806,198.5 803.5,197 802,194.8" fill="#ff0000"/>
<polygon points="802,248 804,250.5 807,251.8 810,252.2 810,255.7 806,255.2 803.5,253.8 802,251.7" fill="#ffff00"/>
<text x="804.3" y="42" font-size="13" fill="#ff6060" text-anchor="start" >T</text>
<text x="11" y="382" font-size="13" fill="#000" text-anchor="start" textLength="26" lengthAdjust="spacingAndGlyphs" >10:52</text>
<path d="M40,381.3 Q40.3,375 44.5,375 Q48.7,375 49,381.3 Z" fill="#ffff00"/>
<rect x="1" y="385" width="794" height="80" fill="#ccfaf7"/>
<g fill="#808080" shape-rendering="crispEdges">
<rect x="88" y="385" width="1" height="80"/>
<rect x="205" y="385" width="1" height="80"/>
<rect x="323" y="385" width="1" height="80"/>
<rect x="441" y="385" width="1" height="80"/>
<rect x="560" y="385" width="1" height="80"/>
<rect x="678" y="385" width="1" height="80"/>
<rect x="795" y="385" width="2" height="80"/>
<rect x="801" y="385" width="1" height="80"/>
</g>
<text x="9" y="403" font-size="13" fill="#000" text-anchor="start" font-weight="bold" stroke="#000" stroke-width="0.3" textLength="38" lengthAdjust="spacingAndGlyphs" >Sensor</text>
<text x="9" y="419" font-size="13" fill="#000" text-anchor="start" font-weight="bold" stroke="#000" stroke-width="0.3" textLength="45.5" lengthAdjust="spacingAndGlyphs" >MinWert</text>
<text x="9" y="435" font-size="13" fill="#000" text-anchor="start" font-weight="bold" stroke="#000" stroke-width="0.3" textLength="49" lengthAdjust="spacingAndGlyphs" >MaxWert</text>
<text x="9" y="451" font-size="13" fill="#000" text-anchor="start" font-weight="bold" stroke="#000" stroke-width="0.3" textLength="71" lengthAdjust="spacingAndGlyphs" >Durchschnitt</text>
<text x="9" y="467" font-size="13" fill="#000" text-anchor="start" font-weight="bold" stroke="#000" stroke-width="0.3" textLength="71" lengthAdjust="spacingAndGlyphs" >14.10. 23:55</text>
<text x="95.5" y="403" font-size="13" fill="#000" text-anchor="start" font-weight="bold" stroke="#000" stroke-width="0.3" textLength="49" lengthAdjust="spacingAndGlyphs" >Temp. A.</text>
<text x="198.7" y="403" font-size="13" fill="#000" text-anchor="end" font-weight="bold" stroke="#000" stroke-width="0.3" textLength="11.5" lengthAdjust="spacingAndGlyphs" >°C</text>
<text x="100.5" y="419" font-size="13" fill="#000" text-anchor="start" textLength="27" lengthAdjust="spacingAndGlyphs" >08:30</text>
<text x="198.7" y="419" font-size="13" fill="#000" text-anchor="end" textLength="15" lengthAdjust="spacingAndGlyphs" >6.5</text>
<text x="100.5" y="435" font-size="13" fill="#000" text-anchor="start" textLength="27" lengthAdjust="spacingAndGlyphs" >16:00</text>
<text x="198.7" y="435" font-size="13" fill="#000" text-anchor="end" textLength="21" lengthAdjust="spacingAndGlyphs" >22.9</text>
<text x="198.7" y="451" font-size="13" fill="#000" text-anchor="end" textLength="26" lengthAdjust="spacingAndGlyphs" >12.82</text>
<text x="198.7" y="467" font-size="13" fill="#000" text-anchor="end" font-weight="bold" stroke="#000" stroke-width="0.3" textLength="17" lengthAdjust="spacingAndGlyphs" >9.1</text>
<text x="213" y="403" font-size="13" fill="#000" text-anchor="start" font-weight="bold" stroke="#000" stroke-width="0.3" textLength="60.5" lengthAdjust="spacingAndGlyphs" >Feuchte A.</text>
<text x="317.5" y="403" font-size="13" fill="#000" text-anchor="end" font-weight="bold" stroke="#000" stroke-width="0.3" textLength="9.5" lengthAdjust="spacingAndGlyphs" >%</text>
<text x="219" y="419" font-size="13" fill="#000" text-anchor="start" textLength="27" lengthAdjust="spacingAndGlyphs" >11:35</text>
<text x="317.5" y="419" font-size="13" fill="#000" text-anchor="end" textLength="11.5" lengthAdjust="spacingAndGlyphs" >74</text>
<text x="219" y="435" font-size="13" fill="#000" text-anchor="start" textLength="27" lengthAdjust="spacingAndGlyphs" >00:00</text>
<text x="317.5" y="435" font-size="13" fill="#000" text-anchor="end" textLength="11.5" lengthAdjust="spacingAndGlyphs" >83</text>
<text x="317.5" y="451" font-size="13" fill="#000" text-anchor="end" textLength="11.5" lengthAdjust="spacingAndGlyphs" >81</text>
<text x="216" y="467" font-size="13" fill="#000" text-anchor="start" textLength="45" lengthAdjust="spacingAndGlyphs" >7.36 g/m³</text>
<text x="317.5" y="467" font-size="13" fill="#000" text-anchor="end" font-weight="bold" stroke="#000" stroke-width="0.3" textLength="13.5" lengthAdjust="spacingAndGlyphs" >83</text>
<text x="330.5" y="403" font-size="13" fill="#000" text-anchor="start" font-weight="bold" stroke="#000" stroke-width="0.3" textLength="53.5" lengthAdjust="spacingAndGlyphs" >Luftdruck</text>
<text x="435.3" y="403" font-size="13" fill="#000" text-anchor="end" font-weight="bold" stroke="#000" stroke-width="0.3" textLength="21.5" lengthAdjust="spacingAndGlyphs" >hPa</text>
<text x="336.5" y="419" font-size="13" fill="#000" text-anchor="start" textLength="27" lengthAdjust="spacingAndGlyphs" >05:40</text>
<text x="435.3" y="419" font-size="13" fill="#000" text-anchor="end" textLength="33" lengthAdjust="spacingAndGlyphs" >1032.2</text>
<text x="336.5" y="435" font-size="13" fill="#000" text-anchor="start" textLength="27" lengthAdjust="spacingAndGlyphs" >14:00</text>
<text x="435.3" y="435" font-size="13" fill="#000" text-anchor="end" textLength="33" lengthAdjust="spacingAndGlyphs" >1036.9</text>
<text x="330.5" y="451" font-size="13" fill="#000" text-anchor="start" textLength="50" lengthAdjust="spacingAndGlyphs" >^2.0hPa/h</text>
<text x="435.3" y="451" font-size="13" fill="#000" text-anchor="end" textLength="33" lengthAdjust="spacingAndGlyphs" >1034.0</text>
<text x="330.5" y="467" font-size="13" fill="#000" text-anchor="start" textLength="67" lengthAdjust="spacingAndGlyphs" >leicht bewölkt</text>
<text x="435.3" y="467" font-size="13" fill="#000" text-anchor="end" font-weight="bold" stroke="#000" stroke-width="0.3" textLength="36.5" lengthAdjust="spacingAndGlyphs" >1033.6</text>
<text x="448.5" y="403" font-size="13" fill="#000" text-anchor="start" font-weight="bold" stroke="#000" stroke-width="0.3" textLength="28.5" lengthAdjust="spacingAndGlyphs" >Wind</text>
<text x="553.3" y="403" font-size="13" fill="#000" text-anchor="end" font-weight="bold" stroke="#000" stroke-width="0.3" textLength="28.5" lengthAdjust="spacingAndGlyphs" >km/h</text>
<text x="448.5" y="419" font-size="13" fill="#000" text-anchor="start" textLength="43" lengthAdjust="spacingAndGlyphs" >Ø 10 min.</text>
<text x="553.3" y="419" font-size="13" fill="#000" text-anchor="end" textLength="15" lengthAdjust="spacingAndGlyphs" >0.0</text>
<text x="454.5" y="435" font-size="13" fill="#000" text-anchor="start" textLength="27" lengthAdjust="spacingAndGlyphs" >13:55</text>
<text x="553.3" y="435" font-size="13" fill="#000" text-anchor="end" textLength="42.5" lengthAdjust="spacingAndGlyphs" >S-SO 3.1</text>
<text x="553.3" y="451" font-size="13" fill="#000" text-anchor="end" textLength="15" lengthAdjust="spacingAndGlyphs" >0.4</text>
<text x="454.5" y="467" font-size="13" fill="#000" text-anchor="start" textLength="42" lengthAdjust="spacingAndGlyphs" >0 Bft SW</text>
<text x="553.3" y="467" font-size="13" fill="#000" text-anchor="end" font-weight="bold" stroke="#000" stroke-width="0.3" textLength="18" lengthAdjust="spacingAndGlyphs" >0.0</text>
<text x="567" y="403" font-size="13" fill="#000" text-anchor="start" font-weight="bold" stroke="#000" stroke-width="0.3" textLength="50.5" lengthAdjust="spacingAndGlyphs" >Richtung</text>
<text x="573" y="419" font-size="13" fill="#000" text-anchor="start" textLength="27" lengthAdjust="spacingAndGlyphs" >08:20</text>
<text x="671" y="419" font-size="13" fill="#000" text-anchor="end" textLength="26" lengthAdjust="spacingAndGlyphs" >N-NO</text>
<text x="573" y="435" font-size="13" fill="#000" text-anchor="start" textLength="27" lengthAdjust="spacingAndGlyphs" >04:05</text>
<text x="671" y="435" font-size="13" fill="#000" text-anchor="end" textLength="7" lengthAdjust="spacingAndGlyphs" >N</text>
<text x="671" y="451" font-size="13" fill="#000" text-anchor="end" textLength="24" lengthAdjust="spacingAndGlyphs" >S-SO</text>
<text x="573" y="467" font-size="13" fill="#000" text-anchor="start" textLength="21.5" lengthAdjust="spacingAndGlyphs" >225 °</text>
<text x="671" y="467" font-size="13" fill="#000" text-anchor="end" font-weight="bold" stroke="#000" stroke-width="0.3" textLength="19" lengthAdjust="spacingAndGlyphs" >SW</text>
<text x="684.5" y="403" font-size="13" fill="#000" text-anchor="start" font-weight="bold" stroke="#000" stroke-width="0.3" textLength="56.5" lengthAdjust="spacingAndGlyphs" >Windböen</text>
<text x="789.4" y="403" font-size="13" fill="#000" text-anchor="end" font-weight="bold" stroke="#000" stroke-width="0.3" textLength="28.5" lengthAdjust="spacingAndGlyphs" >km/h</text>
<text x="684.5" y="419" font-size="13" fill="#000" text-anchor="start" textLength="43" lengthAdjust="spacingAndGlyphs" >Ø 10 min.</text>
<text x="789.4" y="419" font-size="13" fill="#000" text-anchor="end" textLength="15" lengthAdjust="spacingAndGlyphs" >0.0</text>
<text x="691" y="435" font-size="13" fill="#000" text-anchor="start" textLength="27" lengthAdjust="spacingAndGlyphs" >13:55</text>
<text x="789.4" y="435" font-size="13" fill="#000" text-anchor="end" textLength="42.5" lengthAdjust="spacingAndGlyphs" >S-SO 7.7</text>
<text x="789.4" y="451" font-size="13" fill="#000" text-anchor="end" textLength="15" lengthAdjust="spacingAndGlyphs" >0.6</text>
<text x="691" y="467" font-size="13" fill="#000" text-anchor="start" textLength="42" lengthAdjust="spacingAndGlyphs" >0 Bft SW</text>
<text x="789.4" y="467" font-size="13" fill="#000" text-anchor="end" font-weight="bold" stroke="#000" stroke-width="0.3" textLength="18" lengthAdjust="spacingAndGlyphs" >0.0</text>
</svg>
</body></html>
